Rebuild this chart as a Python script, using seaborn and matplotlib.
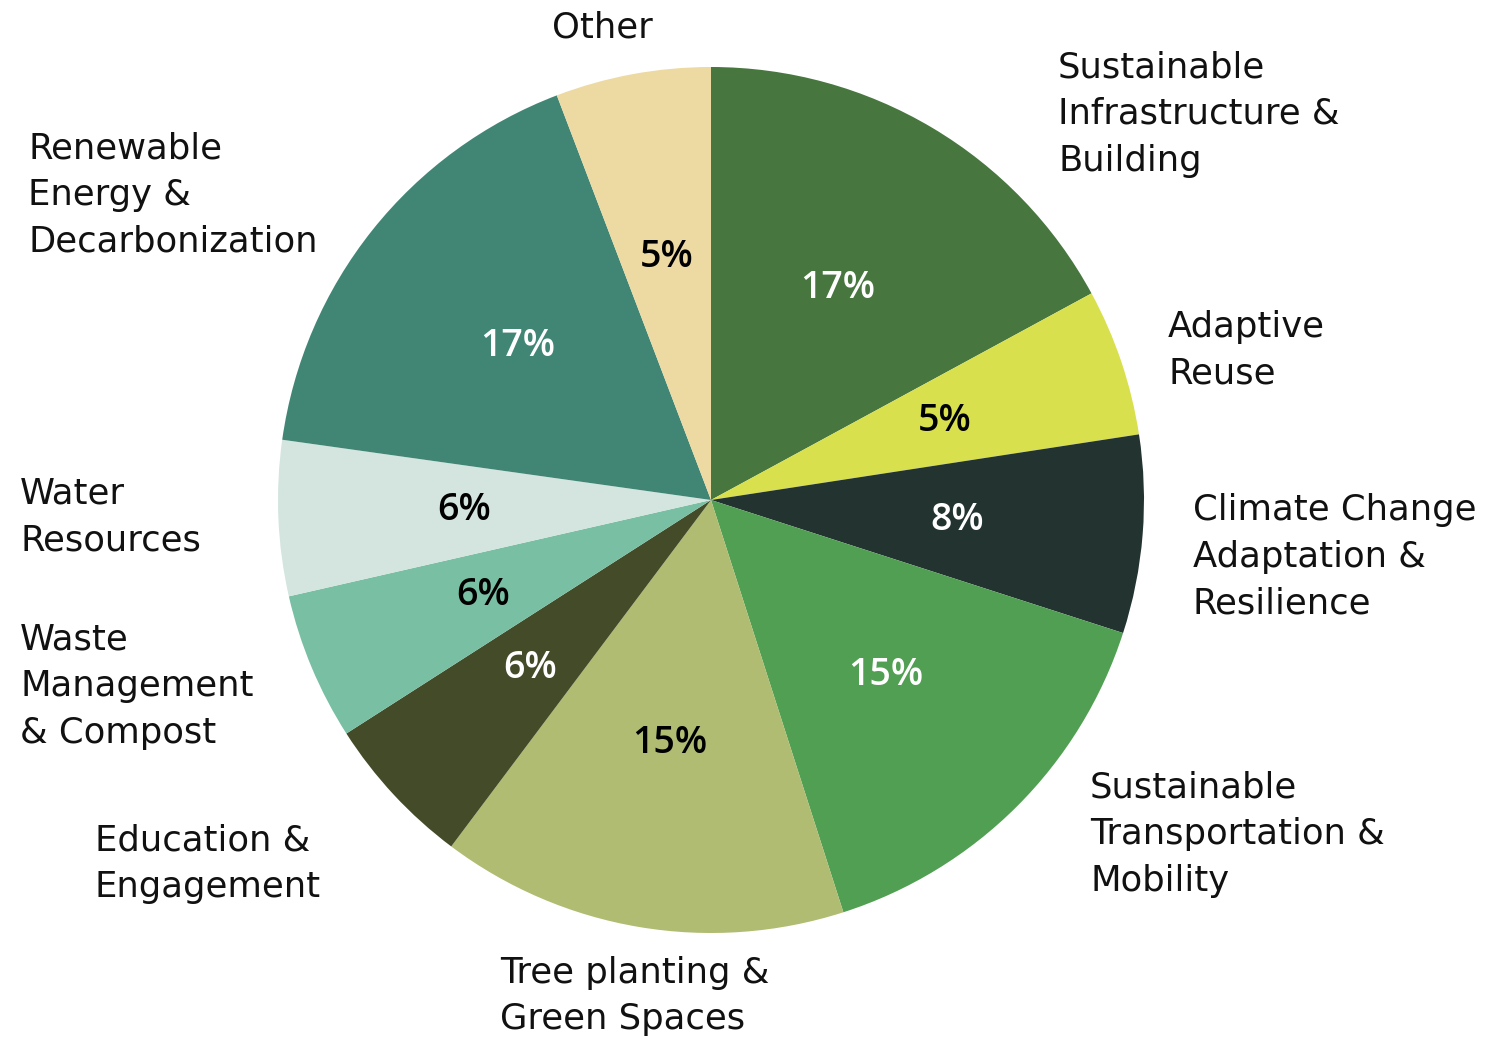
import matplotlib
matplotlib.use("Agg")
import matplotlib.pyplot as plt
import seaborn as sns

categories = [
    "Sustainable\nInfrastructure &\nBuilding",
    "Adaptive\nReuse",
    "Climate Change\nAdaptation &\nResilience",
    "Sustainable\nTransportation &\nMobility",
    "Tree planting &\nGreen Spaces",
    "Education &\nEngagement",
    "Waste\nManagement\n& Compost",
    "Water\nResources",
    "Renewable\nEnergy &\nDecarbonization",
    "Other",
]
shares = [17.1, 5.5, 7.4, 15.1, 15.2, 5.7, 5.5, 5.8, 17.0, 5.8]
pct_labels = ["17%", "5%", "8%", "15%", "15%", "6%", "6%", "6%", "17%", "5%"]

colors = ["#47763F", "#D9E04E", "#223330", "#519F52", "#AFBC72",
          "#434B28", "#78BFA3", "#D3E5DE", "#418675", "#EDD9A2"]
pct_colors = ["white", "black", "white", "white", "black",
              "white", "black", "black", "white", "black"]

# label anchor positions in pixels (x, y from top), alignment
label_pos = [
    (1058, 114, "left"), (1168, 350, "left"), (1193, 557, "left"),
    (1090, 834, "left"), (500, 996, "left"), (95, 864, "left"),
    (20, 686, "left"), (20, 517, "left"), (28, 195, "left"),
    (602, 27, "center"),
]

sns.set_theme(style="white")
plt.rcParams["font.family"] = ["DejaVu Sans"]

W, H = 1488, 1040
fig = plt.figure(figsize=(W / 100, H / 100), dpi=100)
ax = fig.add_axes([0, 0, 1, 1])

wedges, texts, autotexts = ax.pie(
    shares, colors=colors, startangle=90, counterclock=False,
    center=(711, H - 500), radius=433, autopct="%1.0f%%", pctdistance=0.57,
    wedgeprops=dict(linewidth=0), frame=True,
)
ax.set_xlim(0, W)
ax.set_ylim(0, H)
ax.set_aspect("equal")
ax.axis("off")

for t, lab, c in zip(autotexts, pct_labels, pct_colors):
    t.set_text(lab)
    t.set_color(c)
    t.set_fontsize(27)
    t.set_fontweight("semibold")
    t.set_fontfamily(["Open Sans", "DejaVu Sans"])

for cat, (x, y, ha) in zip(categories, label_pos):
    ax.text(x, H - y, cat, ha=ha, va="center", fontsize=25.5,
            color="#111111", linespacing=1.47)

fig.savefig("out.png", dpi=100, facecolor="white")
